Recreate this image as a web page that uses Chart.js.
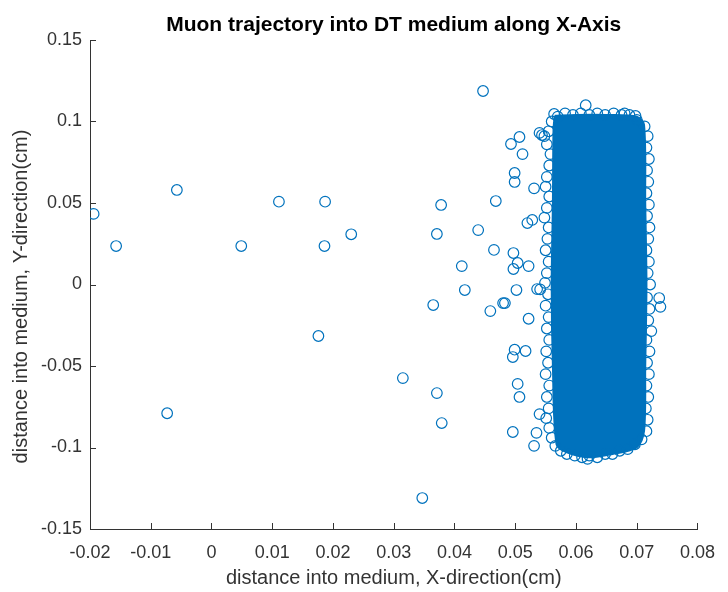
<!DOCTYPE html>
<html>
<head>
<meta charset="utf-8">
<script src="https://cdn.jsdelivr.net/npm/chart.js@4/dist/chart.umd.min.js"></script>
<style>
  html, body { margin: 0; padding: 0; background: #fff; }
  #wrap { width: 728px; height: 592px; }
</style>
</head>
<body>
<div id="wrap"><canvas id="c" width="728" height="592"></canvas></div>
<script>
// tick values and labels
const xTickValues = [-0.02, -0.01, 0, 0.01, 0.02, 0.03, 0.04, 0.05, 0.06, 0.07, 0.08];
const xTickLabels = ['-0.02', '-0.01', '0', '0.01', '0.02', '0.03', '0.04', '0.05', '0.06', '0.07', '0.08'];
const yTickValues = [-0.15, -0.1, -0.05, 0, 0.05, 0.1, 0.15];
const yTickLabels = ['-0.15', '-0.1', '-0.05', '0', '0.05', '0.1', '0.15'];

const titleText = 'Muon trajectory into DT medium along X-Axis';
const xLabel = 'distance into medium, X-direction(cm)';
const yLabel = 'distance into medium, Y-direction(cm)';

// scattered hits outside the main block
const strayX = [-0.0194, -0.0157, -0.0057, -0.0073, 0.0049, 0.0111, 0.0187, 0.0186, 0.0230, 0.0176,
  0.0315, 0.0347, 0.0371, 0.0379, 0.0365, 0.0378, 0.0371, 0.0447, 0.0439, 0.0468,
  0.0465, 0.0412, 0.0417, 0.0459, 0.0483, 0.0480, 0.0522, 0.0499, 0.0496, 0.0517,
  0.0504, 0.0507, 0.0496, 0.0535, 0.0531, 0.0540, 0.0493, 0.0507, 0.0512, 0.0499,
  0.0499, 0.0497, 0.0504, 0.0497, 0.0522, 0.0502, 0.0737, 0.0739, 0.0724, 0.0616,
  0.0619, 0.0544, 0.0540, 0.0531, 0.0520, 0.0528, 0.0536, 0.0541, 0.0564, 0.0680, 0.0698];
const strayY = [0.0433, 0.0236, 0.0580, -0.0790, 0.0236, 0.0508, 0.0508, 0.0236, 0.0308, -0.0316,
  -0.0574, -0.1310, -0.0666, -0.0850, -0.0126, 0.0488, 0.0310, 0.1187, 0.0334, 0.0512,
  0.0212, 0.0113, -0.0034, -0.0163, -0.0114, -0.0114, -0.0210, -0.0400, -0.0445, -0.0408,
  -0.0610, -0.0690, -0.0905, -0.0910, -0.0990, -0.0795, 0.0862, 0.0905, 0.0800, 0.0684,
  0.0629, 0.0193, 0.0132, 0.0095, 0.0113, -0.0034, -0.0083, -0.0137, -0.0286, 0.1100,
  -0.1070, 0.0917, 0.0930, 0.0590, 0.0377, 0.0396, -0.0028, -0.0030, 0.1046, 0.1050, 0.1034];

// hits along the edge of the dense block
const edgeX = [0.0560, 0.0555, 0.0548, 0.0552, 0.0558, 0.0556, 0.0552, 0.0550, 0.0556, 0.0552,
  0.0548, 0.0555, 0.0553, 0.0550, 0.0555, 0.0552, 0.0549, 0.0554, 0.0550, 0.0555,
  0.0552, 0.0556, 0.0551, 0.0554, 0.0550, 0.0556, 0.0552, 0.0555, 0.0551, 0.0556,
  0.0560, 0.0566, 0.0575, 0.0585, 0.0598, 0.0610, 0.0622, 0.0635, 0.0648, 0.0660,
  0.0672, 0.0685, 0.0697, 0.0708, 0.0716, 0.0718, 0.0715, 0.0719, 0.0716, 0.0720,
  0.0717, 0.0721, 0.0716, 0.0719, 0.0721, 0.0717, 0.0722, 0.0718, 0.0720, 0.0716,
  0.0719, 0.0721, 0.0717, 0.0720, 0.0716, 0.0719, 0.0717, 0.0720, 0.0716, 0.0718,
  0.0713, 0.0700, 0.0688, 0.0675, 0.0662, 0.0648, 0.0635, 0.0622, 0.0608, 0.0595,
  0.0582, 0.0570];
const edgeY = [0.100, 0.094, 0.091, 0.086, 0.080, 0.073, 0.066, 0.060, 0.054, 0.047,
  0.041, 0.035, 0.028, 0.021, 0.014, 0.007, 0.001, -0.006, -0.013, -0.020,
  -0.027, -0.034, -0.041, -0.048, -0.055, -0.062, -0.069, -0.076, -0.082, -0.088,
  -0.094, -0.099, -0.102, -0.104, -0.105, -0.106, -0.105, -0.106, -0.104, -0.104,
  -0.102, -0.101, -0.098, -0.095, -0.090, -0.083, -0.076, -0.069, -0.062, -0.055,
  -0.048, -0.041, -0.034, -0.022, -0.015, -0.008, 0.000, 0.007, 0.014, 0.021,
  0.028, 0.035, 0.042, 0.049, 0.056, 0.063, 0.070, 0.077, 0.084, 0.091,
  0.097, 0.101, 0.104, 0.104, 0.105, 0.104, 0.105, 0.104, 0.105, 0.104,
  0.105, 0.103];

// outline of the saturated core (thousands of overlapping markers)
const coreX = [0.0565, 0.0600, 0.0650, 0.0700, 0.0712, 0.0714, 0.0716, 0.0714, 0.0712, 0.0700,
  0.0660, 0.0620, 0.0585, 0.0568, 0.0562, 0.0560, 0.0562, 0.0563, 0.0565];
const coreY = [0.1035, 0.1040, 0.1040, 0.1030, 0.0980, 0.0500, 0.0000, -0.0500, -0.0900, -0.1000,
  -0.1040, -0.1060, -0.1030, -0.0980, -0.0500, 0.0000, 0.0500, 0.0950, 0.1035];

const blue = '#0072BD';
const ink = '#333333';
const fam = 'Arial, "Liberation Sans", Helvetica, sans-serif';
const toPts = (xs, ys) => xs.map((x, i) => ({ x, y: ys[i] }));

// MATLAB style: ticks pointing into the plot, title centred over the axes
const matlabLook = {
  id: 'matlabLook',
  afterDraw(chart) {
    const { ctx, chartArea: a, scales } = chart;
    ctx.save();
    ctx.strokeStyle = ink;
    ctx.lineWidth = 1;
    ctx.beginPath();
    scales.x.ticks.forEach(t => {
      const px = Math.round(scales.x.getPixelForValue(t.value)) + 0.5;
      ctx.moveTo(px, a.bottom);
      ctx.lineTo(px, a.bottom - 6);
    });
    scales.y.ticks.forEach(t => {
      const py = Math.round(scales.y.getPixelForValue(t.value)) + 0.5;
      ctx.moveTo(a.left, py);
      ctx.lineTo(a.left + 6, py);
    });
    ctx.stroke();

    ctx.fillStyle = '#000';
    ctx.font = 'bold 21px ' + fam;
    ctx.textAlign = 'center';
    ctx.textBaseline = 'alphabetic';
    ctx.fillText(titleText, (a.left + a.right) / 2, 31);

    ctx.fillStyle = ink;
    ctx.font = '20px ' + fam;
    ctx.translate(27, (a.top + a.bottom) / 2 + 12);
    ctx.rotate(-Math.PI / 2);
    ctx.fillText(yLabel, 0, 0);
    ctx.restore();
  }
};

new Chart(document.getElementById('c'), {
  type: 'scatter',
  data: {
    datasets: [
      {
        data: toPts(strayX, strayY),
        pointStyle: 'circle', pointRadius: 5.3, pointBorderWidth: 1.2,
        borderColor: blue, backgroundColor: 'rgba(0,0,0,0)', order: 1
      },
      {
        data: toPts(edgeX, edgeY),
        pointStyle: 'circle', pointRadius: 5.3, pointBorderWidth: 1.2,
        borderColor: blue, backgroundColor: 'rgba(0,0,0,0)', order: 2
      },
      {
        data: toPts(coreX, coreY),
        showLine: true, fill: 'shape', tension: 0.3,
        pointRadius: 0, borderColor: blue, borderWidth: 2,
        backgroundColor: blue, order: 3
      }
    ]
  },
  options: {
    responsive: false,
    animation: false,
    events: [],
    layout: { padding: { left: 0, right: 20, top: 40, bottom: 0 } },
    plugins: {
      legend: { display: false },
      tooltip: { enabled: false },
      title: { display: false }
    },
    scales: {
      x: {
        type: 'linear', min: -0.02, max: 0.08,
        afterBuildTicks: s => { s.ticks = xTickValues.map(v => ({ value: v })); },
        afterFit: s => { s.height = 63; },
        grid: { display: false, drawTicks: false },
        border: { display: true, color: ink, width: 1 },
        ticks: {
          color: ink, padding: 13,
          font: { family: fam, size: 18 },
          callback: (v, i) => xTickLabels[i]
        },
        title: {
          display: true, text: xLabel, color: ink,
          font: { family: fam, size: 20 },
          padding: { top: 0, bottom: 2 }
        }
      },
      y: {
        type: 'linear', min: -0.15, max: 0.15,
        afterBuildTicks: s => { s.ticks = yTickValues.map(v => ({ value: v })); },
        afterFit: s => { s.width = 90; },
        grid: { display: false, drawTicks: false },
        border: { display: true, color: ink, width: 1 },
        ticks: {
          color: ink, padding: 8,
          font: { family: fam, size: 18 },
          callback: (v, i) => yTickLabels[i]
        },
        title: { display: false }
      }
    }
  },
  plugins: [matlabLook]
});
</script>
</body>
</html>
